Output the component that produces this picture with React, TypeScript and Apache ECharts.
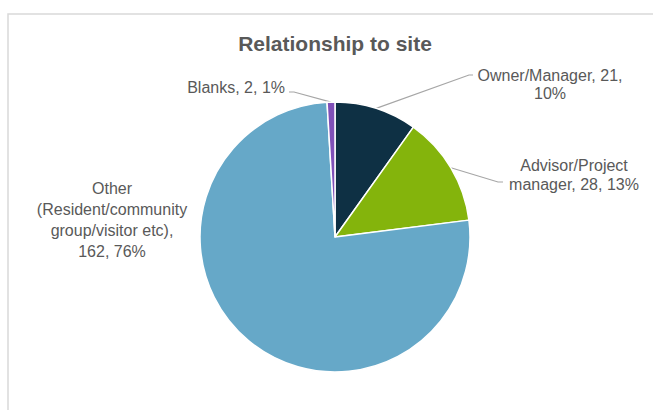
import React, { useEffect, useRef } from "react";
import * as echarts from "echarts";

const categories = [
  "Owner/Manager",
  "Advisor/Project manager",
  "Other (Resident/community group/visitor etc)",
  "Blanks",
];
const values = [21, 28, 162, 2];
const labelNames = [
  "Owner/Manager",
  "Advisor/Project\nmanager",
  "Other\n(Resident/community\ngroup/visitor etc)",
  "Blanks",
];
const sepBeforeValue = [", ", ", ", ",\n", ", "];
const sepBeforePct = [",\n", ", ", ", ", ", "];
const colors = ["#0E3044", "#84B40C", "#66A8C8", "#8050B8"];
const showLine = [true, true, false, true];

const TITLE = "Relationship to site";
const FONT = "'Liberation Sans', Arial, sans-serif";

// label placement (layout only)
const labelPos = [
  { x: 550, y: 84, align: "center", lh: 18 },
  { x: 574, y: 175, align: "center", lh: 19 },
  { x: 112, y: 220, align: "center", lh: 21 },
  { x: 285, y: 87, align: "right", lh: 19 },
];
const lineBends: (number[][] | null)[] = [
  [[469, 75], [473, 75]],
  [[498, 182], [503, 182]],
  null,
  [[294, 92], [289, 92]],
];

export default function App() {
  const ref = useRef<HTMLDivElement>(null);
  useEffect(() => {
    if (!ref.current) return;
    const chart = echarts.init(ref.current, null, { renderer: "svg" });
    const data = categories.map((name, i) => ({
      name,
      value: values[i],
      itemStyle: { color: colors[i] },
      label: { lineHeight: labelPos[i].lh },
      labelLine: { show: showLine[i] },
    }));
    chart.setOption({
      animation: false,
      backgroundColor: "#ffffff",
      graphic: [
        {
          type: "rect",
          z: -1,
          shape: { x: 8, y: 14, width: 700, height: 500 },
          style: { fill: "none", stroke: "#D9D9D9", lineWidth: 1.5 },
        },
        {
          type: "text",
          x: 335,
          y: 43,
          style: {
            text: TITLE,
            textAlign: "center",
            textVerticalAlign: "middle",
            fill: "#595959",
            font: `bold 21px ${FONT}`,
          },
        },
      ],
      series: [
        {
          type: "pie",
          center: [335, 237],
          radius: 135,
          startAngle: 90,
          clockwise: true,
          avoidLabelOverlap: false,
          itemStyle: { borderColor: "#ffffff", borderWidth: 1.5 },
          label: {
            show: true,
            position: "outside",
            color: "#595959",
            fontSize: 16,
            fontFamily: FONT,
            formatter: (p: any) =>
              `${labelNames[p.dataIndex]}${sepBeforeValue[p.dataIndex]}${p.value}${
                sepBeforePct[p.dataIndex]
              }${Math.round(p.percent)}%`,
          },
          labelLine: {
            lineStyle: { color: "#A6A6A6", width: 1.2 },
          },
          labelLayout: (params: any) => {
            const i = params.dataIndex;
            const pos = labelPos[i];
            const res: any = {
              x: pos.x,
              y: pos.y,
              align: pos.align,
              verticalAlign: "middle",
            };
            const bends = lineBends[i];
            if (bends && params.labelLinePoints) {
              res.labelLinePoints = [params.labelLinePoints[0], bends[0], bends[1]];
            }
            return res;
          },
          emphasis: { disabled: true },
          data,
        },
      ],
    });
    return () => chart.dispose();
  }, []);
  return (
    <div
      ref={ref}
      style={{ position: "fixed", left: 0, top: 0, width: 653, height: 410, background: "#fff" }}
    />
  );
}
